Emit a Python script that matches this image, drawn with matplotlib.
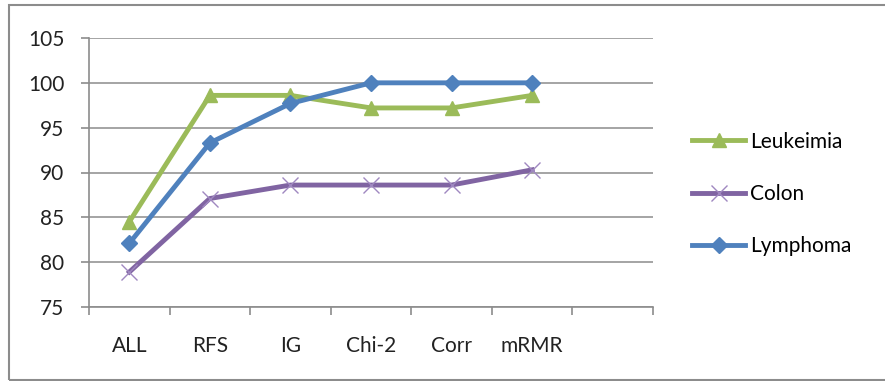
import matplotlib.pyplot as plt
from matplotlib.patches import Rectangle

# data
methods = ['ALL', 'RFS', 'IG', 'Chi-2', 'Corr', 'mRMR', '']
leukeimia = [84.5, 98.6, 98.6, 97.2, 97.2, 98.6]
colon = [78.9, 87.1, 88.6, 88.6, 88.6, 90.3]
lymphoma = [82.1, 93.3, 97.7, 100, 100, 100]
yticks = [75, 80, 85, 90, 95, 100, 105]

plt.rcParams['font.family'] = ['Lato', 'DejaVu Sans']

fig = plt.figure(figsize=(8.85, 3.81), dpi=100)
ax = fig.add_axes([89 / 885, 1 - 307 / 381, (653 - 89) / 885, (307 - 38) / 381])

# outer chart border (right edge is cut off in the original)
fig.patches.append(Rectangle((9 / 885, 1 / 381), 1.0, 375 / 381,
                             transform=fig.transFigure, fill=False,
                             edgecolor='#8c8c8c', linewidth=1.5))

x = list(range(len(leukeimia)))
ax.plot(x, leukeimia, color='#9BBB59', linewidth=3.5, marker='^',
        markersize=10, label='Leukeimia', zorder=3)
ax.plot(x, colon, color='#8064A2', linewidth=3.5, marker='x',
        markersize=12, markeredgewidth=1.0, markeredgecolor='#9f88c0',
        label='Colon', zorder=3)
ax.plot(x, lymphoma, color='#4F81BD', linewidth=3.5, marker='D',
        markersize=8, label='Lymphoma', zorder=4)

ax.set_xlim(-0.5, len(methods) - 0.5)
ax.set_ylim(75, 105)
ax.set_yticks(yticks)

# category labels centred, tick marks on the category boundaries
ax.set_xticks(range(len(methods)))
ax.set_xticklabels(methods, fontsize=15, color='#222222')
ax.tick_params(axis='x', which='major', length=0, pad=21)
ax.set_xticks([i - 0.5 for i in range(len(methods) + 1)], minor=True)
ax.tick_params(axis='x', which='minor', length=5.8, width=1.2,
               color='#8c8c8c', direction='out')
ax.tick_params(axis='y', length=5.8, width=1.2, color='#8c8c8c',
               pad=12, labelsize=15, labelcolor='#222222')

ax.grid(True, axis='y', color='#8c8c8c', linewidth=1.1)
ax.set_axisbelow(True)
for side in ['top', 'right']:
    ax.spines[side].set_visible(False)
for side in ['left', 'bottom']:
    ax.spines[side].set_color('#8c8c8c')
    ax.spines[side].set_linewidth(1.2)

ax.legend(loc='center left', bbox_to_anchor=(692 / 885, 1 - 194 / 381),
          bbox_transform=fig.transFigure, frameon=False, fontsize=15,
          handlelength=2.55, handletextpad=0.25, labelspacing=1.55,
          borderpad=0, borderaxespad=0)

fig.savefig('out.png', dpi=100)
